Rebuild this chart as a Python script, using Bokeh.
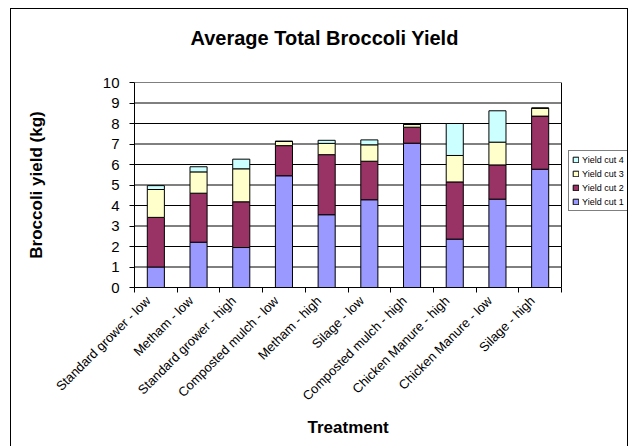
from bokeh.plotting import figure
from bokeh.models import ColumnDataSource, FixedTicker, Legend, LegendItem, Range1d, Title
from bokeh.embed import file_html
from bokeh.resources import INLINE

treatments = ["Standard grower - low", "Metham - low", "Standard grower - high",
              "Composted mulch - low", "Metham - high", "Silage - low",
              "Composted mulch - high", "Chicken Manure - high",
              "Chicken Manure - low", "Silage - high"]
cut1 = [1.00, 2.21, 1.95, 5.45, 3.55, 4.28, 7.04, 2.36, 4.31, 5.77]
cut2 = [2.42, 2.39, 2.23, 1.47, 2.93, 1.88, 0.78, 2.79, 1.67, 2.59]
cut3 = [1.36, 1.04, 1.61, 0.21, 0.55, 0.80, 0.13, 1.29, 1.11, 0.39]
cut4 = [0.19, 0.25, 0.47, 0.00, 0.15, 0.24, 0.02, 1.56, 1.53, 0.00]
series_names = ["Yield cut 1", "Yield cut 2", "Yield cut 3", "Yield cut 4"]
colors = ["#9999FF", "#993366", "#FFFFCC", "#CCFFFF"]
y_ticks = list(range(0, 11))

n = len(treatments)
xs = [i + 0.5 for i in range(n)]
source = ColumnDataSource(dict(x=xs, c1=cut1, c2=cut2, c3=cut3, c4=cut4))

FONT = "Liberation Sans"
PLOT_W = 427      # width of the plot area in px
FRAME_W = 493     # frame also hosts the legend on its right
x_end = n * FRAME_W / PLOT_W

p = figure(output_backend="svg", toolbar_location=None,
           frame_width=FRAME_W, frame_height=205,
           min_border_left=123, min_border_top=73, min_border_right=0, min_border_bottom=165,
           x_range=Range1d(0, x_end), y_range=Range1d(0, 10))

p.styles = {"border": "1px solid black", "margin-left": "10px", "margin-top": "8px"}

# spacer between title and plot area, then the title itself
p.add_layout(Title(text=" ", text_font_size="16px"), "above")
p.add_layout(Title(text="Average Total Broccoli Yield", text_font=FONT, text_font_size="20px",
                   text_font_style="bold", text_color="black", align="left", offset=56), "above")

# gridlines and plot-area border (limited to the plot area)
p.segment(x0=0, x1=n, y0=y_ticks, y1=y_ticks, line_color="black", line_width=1)
p.segment(x0=n, x1=n, y0=0, y1=10, line_color="black", line_width=1)

renderers = p.vbar_stack(["c1", "c2", "c3", "c4"], x="x", width=0.4, source=source,
                         fill_color=colors, line_color="black", line_width=1)

items = [LegendItem(label=series_names[i], renderers=[renderers[i]]) for i in range(3, -1, -1)]
legend = Legend(items=items, location=(434, 76), margin=0, padding=3, spacing=3,
                glyph_width=7, glyph_height=7, label_height=11, label_standoff=3,
                label_text_font=FONT, label_text_font_size="9px", label_text_color="black",
                border_line_color="black", border_line_width=1,
                background_fill_color="white", background_fill_alpha=1)
p.add_layout(legend, "center")

p.xgrid.grid_line_color = None
p.ygrid.grid_line_color = None
p.outline_line_color = None

# y axis
p.yaxis.ticker = FixedTicker(ticks=y_ticks)
p.yaxis.axis_label = "Broccoli yield (kg)"
p.yaxis.axis_label_text_font = FONT
p.yaxis.axis_label_text_font_size = "17px"
p.yaxis.axis_label_text_font_style = "bold"
p.yaxis.axis_label_text_color = "black"
p.yaxis.axis_label_standoff = 54
p.yaxis.major_label_text_font = FONT
p.yaxis.major_label_text_font_size = "15px"
p.yaxis.major_label_text_color = "black"
p.yaxis.major_label_standoff = 10
p.yaxis.major_tick_out = 5
p.yaxis.major_tick_in = 0
p.yaxis.major_tick_line_color = "black"
p.yaxis.minor_tick_line_color = None
p.yaxis.axis_line_color = "black"

# x axis: labels under each bar, tick marks between categories
label_pos = [x - 0.18 for x in xs]
p.xaxis.bounds = (0, n)
p.xaxis.ticker = FixedTicker(ticks=label_pos, minor_ticks=list(range(0, n + 1)))
p.xaxis.major_label_overrides = {x: t for x, t in zip(label_pos, treatments)}
p.xaxis.major_label_orientation = 0.785398
p.xaxis.major_label_text_font = FONT
p.xaxis.major_label_text_font_size = "13px"
p.xaxis.major_label_text_color = "black"
p.xaxis.major_label_standoff = 6
p.xaxis.major_tick_out = 0
p.xaxis.major_tick_in = 0
p.xaxis.minor_tick_out = 5
p.xaxis.minor_tick_in = 0
p.xaxis.minor_tick_line_color = "black"
p.xaxis.axis_line_color = "black"

# x-axis title, centred under the plot area (not under the legend)
p.add_layout(Title(text="Treatment", text_font=FONT, text_font_size="17px",
                   text_font_style="bold", text_color="black", align="left", offset=173,
                   standoff=8), "below")

open("out.html", "w").write(file_html(p, INLINE))
